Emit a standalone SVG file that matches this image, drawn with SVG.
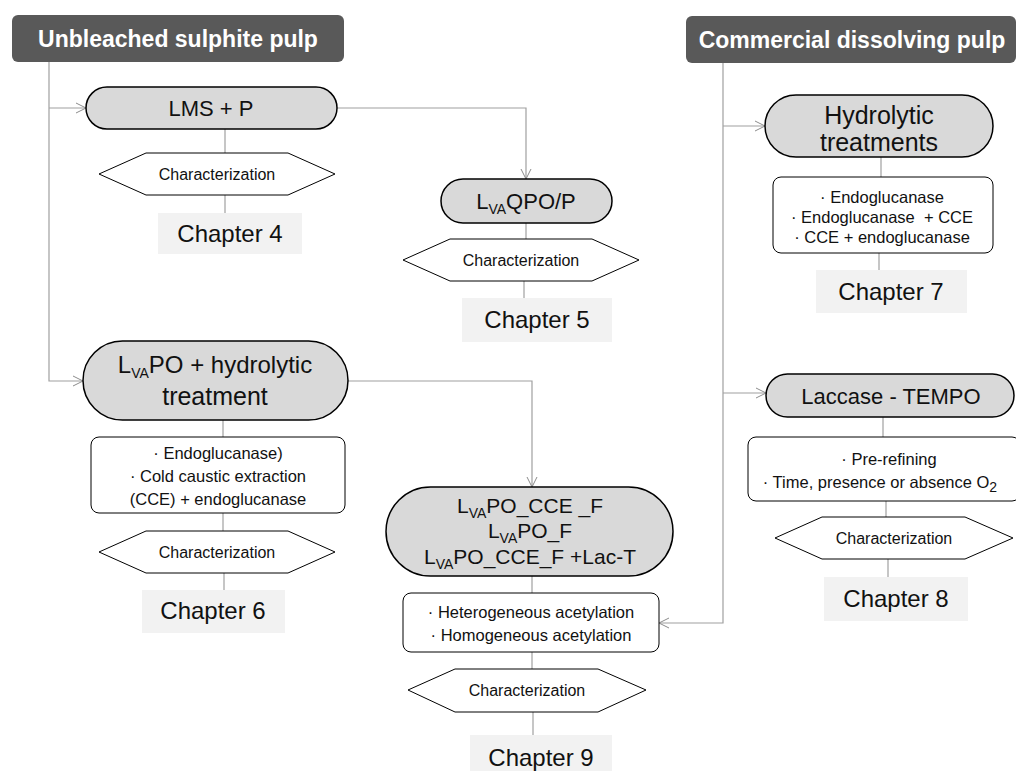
<svg xmlns="http://www.w3.org/2000/svg" width="1016" height="771" viewBox="0 0 1016 771">
<defs>
<marker id="arr" markerUnits="userSpaceOnUse" markerWidth="12" markerHeight="12" viewBox="0 0 12 12" refX="11" refY="6" orient="auto">
<path d="M1,1 L11,6 L1,11" fill="none" stroke="#8c8c8c" stroke-width="1"/>
</marker>
<style>
text{font-family:"Liberation Sans",Arial,sans-serif;fill:#111;text-anchor:middle}
.hdr rect{fill:#595959}
.hdr text{fill:#fff;font-weight:bold;font-size:23px}
.pill{fill:#d9d9d9;stroke:#000;stroke-width:1.5}
.box{fill:#fff;stroke:#000;stroke-width:1}
.hex{fill:#fff;stroke:#000;stroke-width:1}
.chap{fill:#f2f2f2}
.ct{font-size:24px}
.ht{font-size:16px}
.bt{font-size:16.5px}
.pt{font-size:22px}
.sub{font-size:14px}
#connectors path{fill:none;stroke:#a0a0a0;stroke-width:1.2}
</style>
</defs>
<rect width="1016" height="771" fill="#fff"/>
<g id="connectors">
<path d="M49,62 V381 H83" marker-end="url(#arr)"/>
<path d="M49,108 H86" marker-end="url(#arr)"/>
<path d="M337,108 H526 V179" marker-end="url(#arr)"/>
<path d="M225,129 V153"/>
<path d="M225,195 V213"/>
<path d="M526,223 V239"/>
<path d="M524,281 V298"/>
<path d="M348,381 H532 V487" marker-end="url(#arr)"/>
<path d="M223,420 V437"/>
<path d="M223,513 V531"/>
<path d="M224,573 V590"/>
<path d="M532,576 V593"/>
<path d="M532,652 V669"/>
<path d="M533,712 V735"/>
<path d="M723,63 V623 H659" marker-end="url(#arr)"/>
<path d="M723,126 H765" marker-end="url(#arr)"/>
<path d="M723,393 H766" marker-end="url(#arr)"/>
<path d="M881,157 V177"/>
<path d="M879,253 V270"/>
<path d="M883,417 V437"/>
<path d="M886,501 V517"/>
<path d="M888,559 V577"/>
</g>
<g id="hdr1" class="hdr"><rect x="12" y="15" width="332" height="47" rx="6"/><text x="178" y="47">Unbleached sulphite pulp</text></g>
<g id="hdr2" class="hdr"><rect x="686" y="16" width="330" height="47" rx="6"/><text x="852" y="48">Commercial dissolving pulp</text></g>

<g id="lms"><rect class="pill" x="86" y="87" width="251" height="42" rx="21"/><text class="pt" x="211" y="116">LMS + P</text></g>
<g id="char1"><polygon class="hex" points="99,174 146,153 288,153 335,174 288,195 146,195"/><text class="ht" x="217" y="180">Characterization</text></g>
<g id="ch4"><rect class="chap" x="158" y="213" width="144" height="41"/><text class="ct" x="230" y="242">Chapter 4</text></g>

<g id="qpo"><rect class="pill" x="441" y="179" width="171" height="44" rx="22"/><text class="pt" x="526" y="209">L<tspan class="sub" dy="5">VA</tspan><tspan dy="-5">QPO/P</tspan></text></g>
<g id="char2"><polygon class="hex" points="403,260 450,239 592,239 639,260 592,281 450,281"/><text class="ht" x="521" y="266">Characterization</text></g>
<g id="ch5"><rect class="chap" x="462" y="298" width="150" height="44"/><text class="ct" x="537" y="328">Chapter 5</text></g>

<g id="lvapo"><rect class="pill" x="83" y="341" width="265" height="79" rx="39.5"/><text x="215" y="373" font-size="24">L<tspan class="sub" dy="5">VA</tspan><tspan dy="-5">PO + hydrolytic</tspan></text><text x="215" y="405" font-size="25">treatment</text></g>
<g id="box6"><rect class="box" x="91" y="437" width="254" height="76" rx="8"/><text class="bt" x="218" y="459">· Endoglucanase)</text><text class="bt" x="218" y="482">· Cold caustic extraction</text><text class="bt" x="218" y="505">(CCE) + endoglucanase</text></g>
<g id="char6"><polygon class="hex" points="99,552 146,531 288,531 335,552 288,573 146,573"/><text class="ht" x="217" y="558">Characterization</text></g>
<g id="ch6"><rect class="chap" x="142" y="590" width="143" height="43"/><text class="ct" x="213" y="619">Chapter 6</text></g>

<g id="mid"><rect class="pill" x="386" y="487" width="287" height="89" rx="44.5"/><text x="530" y="513" font-size="21">L<tspan class="sub" dy="5">VA</tspan><tspan dy="-5">PO_CCE _F</tspan></text><text x="530" y="538" font-size="21">L<tspan class="sub" dy="5">VA</tspan><tspan dy="-5">PO_F</tspan></text><text x="530" y="564" font-size="21">L<tspan class="sub" dy="5">VA</tspan><tspan dy="-5">PO_CCE_F +Lac-T</tspan></text></g>
<g id="box9"><rect class="box" x="403" y="593" width="256" height="59" rx="8"/><text class="bt" x="531" y="618">· Heterogeneous acetylation</text><text class="bt" x="531" y="641">· Homogeneous acetylation</text></g>
<g id="char9"><polygon class="hex" points="408,690 455,669 598,669 646,690 598,712 455,712"/><text class="ht" x="527" y="696">Characterization</text></g>
<g id="ch9"><rect class="chap" x="470" y="735" width="142" height="40"/><text class="ct" x="541" y="766">Chapter 9</text></g>

<g id="hydro"><rect class="pill" x="765" y="95" width="228" height="62" rx="31"/><text x="879" y="124" font-size="25">Hydrolytic</text><text x="879" y="151" font-size="25">treatments</text></g>
<g id="box7"><rect class="box" x="773" y="177" width="220" height="76" rx="8"/><text class="bt" x="882" y="203">· Endoglucanase</text><text class="bt" x="882" y="223" xml:space="preserve">· Endoglucanase  + CCE</text><text class="bt" x="882" y="243">· CCE + endoglucanase</text></g>
<g id="ch7"><rect class="chap" x="816" y="270" width="151" height="43"/><text class="ct" x="891" y="300">Chapter 7</text></g>

<g id="lac"><rect class="pill" x="766" y="374" width="248" height="43" rx="21.5"/><text class="pt" x="891" y="404">Laccase - TEMPO</text></g>
<g id="box8"><rect class="box" x="748" y="437" width="272" height="64" rx="8"/><text class="bt" x="889" y="465">· Pre-refining</text><text class="bt" x="880" y="488">· Time, presence or absence O<tspan class="sub" font-size="11" dy="4">2</tspan></text></g>
<g id="char8"><polygon class="hex" points="775,538 822,517 965,517 1013,538 965,559 822,559"/><text class="ht" x="894" y="544">Characterization</text></g>
<g id="ch8"><rect class="chap" x="824" y="577" width="144" height="44"/><text class="ct" x="896" y="607">Chapter 8</text></g>
</svg>
